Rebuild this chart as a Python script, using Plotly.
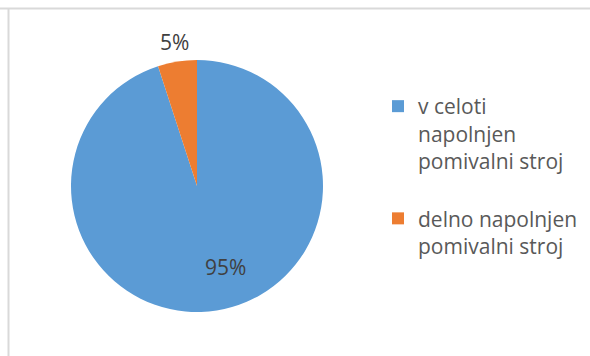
import math
import plotly.graph_objects as go

labels = ["v celoti<br>napolnjen<br>pomivalni stroj<br>", "delno napolnjen<br>pomivalni stroj"]
values = [95, 5]
colors = ["#5B9BD5", "#ED7D31"]

W, H = 590, 356
FONT = "'Open Sans', Lato, sans-serif"

# pie geometry (pixels) and label placement style: (radius fraction, angle offset in degrees)
CX, CY, R = 197, 186, 126
label_style = [(0.68, -10.5), (1.16, 0.0)]

fig = go.Figure()
fig.add_trace(go.Pie(
    labels=labels,
    values=values,
    sort=False,
    direction="clockwise",
    rotation=0,
    marker=dict(colors=colors, line=dict(color="white", width=0)),
    textinfo="none",
    hoverinfo="label+percent",
    domain=dict(x=[(CX - R) / W, (CX + R) / W], y=[1 - (CY + R) / H, 1 - (CY - R) / H]),
))

# data labels, placed along each slice's bisector
total = sum(values)
annotations = []
cum = 0.0
for v, (rf, off) in zip(values, label_style):
    mid = (cum + v / 2) / total * 360 + off
    cum += v
    px = CX + rf * R * math.sin(math.radians(mid))
    py = CY - rf * R * math.cos(math.radians(mid))
    annotations.append(dict(
        x=px / W, y=1 - py / H, xref="paper", yref="paper",
        text=f"{v / total * 100:.0f}%", showarrow=False,
        xanchor="center", yanchor="middle",
        font=dict(family=FONT, size=21, color="#404040"),
    ))

fig.update_layout(
    width=W, height=H,
    margin=dict(l=0, r=0, t=0, b=0),
    paper_bgcolor="white",
    plot_bgcolor="white",
    showlegend=True,
    legend=dict(
        x=378 / W, xanchor="left",
        y=1 - 86 / H, yanchor="top",
        valign="top",
        font=dict(family=FONT, size=21, color="#595959"),
        bgcolor="rgba(0,0,0,0)",
    ),
    annotations=annotations,
    shapes=[
        dict(type="line", xref="paper", yref="paper",
             x0=0, x1=1, y0=1 - 8.5 / H, y1=1 - 8.5 / H,
             line=dict(color="#D9D9D9", width=2)),
        dict(type="line", xref="paper", yref="paper",
             x0=8.5 / W, x1=8.5 / W, y0=0, y1=1 - 8.5 / H,
             line=dict(color="#D9D9D9", width=2)),
    ],
)

fig.write_html("out.html", config={"displayModeBar": False},
               post_script="document.body.style.margin='0';")
